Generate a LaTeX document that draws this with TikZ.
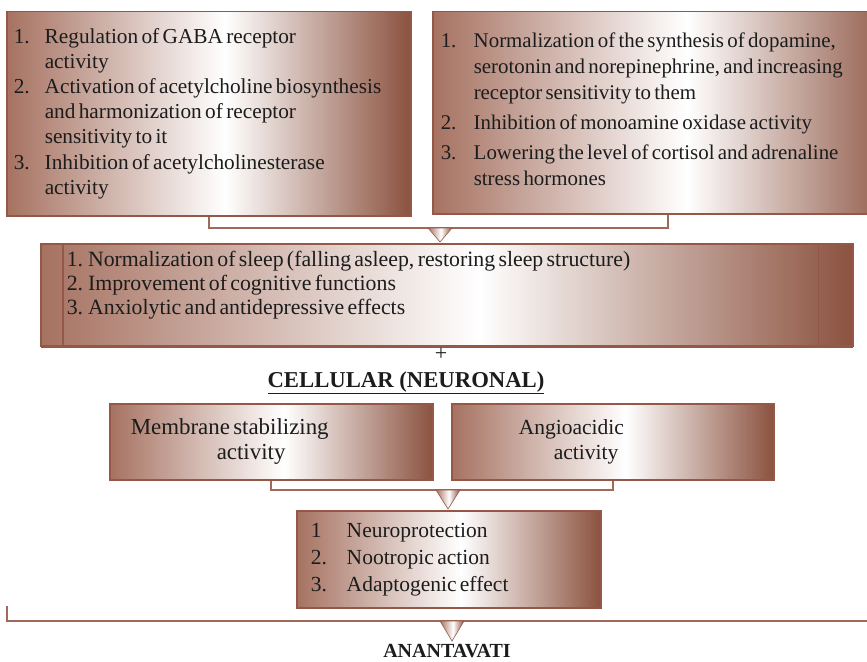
\documentclass[tikz,border=0pt]{standalone}
\usepackage{fontspec}
\setmainfont{Liberation Serif}
\usetikzlibrary{calc,shadows}

\definecolor{brlight}{RGB}{166,114,97}
\definecolor{brdark}{RGB}{139,82,63}
\definecolor{brline}{RGB}{150,88,70}
\definecolor{ink}{RGB}{28,28,28}
% tikz fits the 25bp--75bp part of a shading to the path
\pgfdeclarehorizontalshading{brownbar}{100bp}{color(0bp)=(brlight); color(25bp)=(brlight); color(52bp)=(white); color(75bp)=(brdark); color(100bp)=(brdark)}

\tikzset{
	box/.style={draw=brline, line width=1.5pt, shade, shading=brownbar, anchor=north west, inner ysep=0pt, align=left, text=ink},
	link/.style={draw=brline!90, line width=1.6pt},
	tri/.style={shade, shading=brownbar, draw=brline, line width=0.6pt},
}

\begin{document}
\begin{tikzpicture}[x=1pt, y=-1pt]
	\useasboundingbox (0,0) rectangle (867,661);

	\node[box, minimum height=204pt, text width=390pt, inner xsep=7pt] (gaba) at (6,11) {\fontsize{21.3}{25.2}\selectfont
		\begin{tabular}{@{}p{31pt}@{}l@{}}
			1. & Regulation of GABA receptor\\
			   & activity\\
			2. & Activation of acetylcholine biosynthesis\\
			   & and harmonization of receptor\\
			   & sensitivity to it\\
			3. & Inhibition of acetylcholinesterase\\
			   & activity
		\end{tabular}};
	\node[box, minimum height=202pt, text width=454pt, inner xsep=8pt] (mono) at (432,11) {\fontsize{20.9}{26}\selectfont
		\begin{tabular}{@{}p{33pt}@{}l@{}}
			1. & Normalization of the synthesis of dopamine,\\
			   & serotonin and norepinephrine, and increasing\\
			   & receptor sensitivity to them\\[4pt]
			2. & Inhibition of monoamine oxidase activity\\[4pt]
			3. & Lowering the level of cortisol and adrenaline\\
			   & stress hormones\\[3pt]
		\end{tabular}};

	% joining line and arrow to the sleep box
	\coordinate (t1) at (440,228);
	\draw[link] (gaba.south) |- (t1) -| (mono.south);

	\node[box, minimum height=102pt, text width=760pt, inner xsep=26pt,
		drop shadow={shadow xshift=0pt, shadow yshift=-2.5pt, fill=brline, opacity=1}] (sleep) at (40,243) {\fontsize{21.8}{24}\selectfont
		\begin{tabular}{@{}l@{}}
			1. Normalization of sleep (falling asleep, restoring sleep structure)\\
			2. Improvement of cognitive functions\\
			3. Anxiolytic and antidepressive effects\\[18pt]
		\end{tabular}};
	\draw[brline, line width=1.5pt] ([xshift=23pt]sleep.north west) -- ([xshift=23pt]sleep.south west);
	\draw[brline, line width=1.5pt] ([xshift=-35pt]sleep.north east) -- ([xshift=-35pt]sleep.south east);

	\node[text=ink, font=\fontsize{22}{24}\selectfont] (plus) at (441,354) {+};
	\node[text=ink, font=\bfseries\fontsize{22.7}{24}\selectfont] (cell) at (406,383) {\underline{CELLULAR (NEURONAL)}};

	\node[box, minimum height=76pt, text width=281pt, inner xsep=21pt] (memb) at (109,403) {\fontsize{22.9}{25}\selectfont
		\begin{tabular}{@{}l@{}}
			Membrane stabilizing\\
			\hspace{86pt}activity
		\end{tabular}};
	\node[box, minimum height=76pt, text width=188pt, inner xsep=67pt] (angio) at (451,403) {\fontsize{21.5}{25}\selectfont
		\begin{tabular}{@{}l@{}}
			Angioacidic\\
			\hspace{35pt}activity
		\end{tabular}};

	% joining line and arrow to the neuro box
	\coordinate (t2) at (448,490);
	\draw[link] (memb.south) |- (t2) -| (angio.south);

	\node[box, minimum height=97pt, text width=276pt, inner xsep=14pt] (neuro) at (296,510) {\fontsize{21.5}{27}\selectfont
		\begin{tabular}{@{}p{36pt}@{}l@{}}
			1  & Neuroprotection\\
			2. & Nootropic action\\
			3. & Adaptogenic effect
		\end{tabular}};

	% bottom bracket
	\coordinate (bl) at (7,606);
	\coordinate (t3) at (452,621);
	\coordinate (br) at (900,621);
	\draw[link] (bl) |- (t3) -- (br);

	\foreach \t/\h in {t1/14, t2/19, t3/20}
		\shade[tri] ($(\t)+(-12,0)$) -- ($(\t)+(12,0)$) -- ($(\t)+(0,\h)$) -- cycle;

	\node[text=ink, font=\bfseries\fontsize{20}{22}\selectfont, anchor=base] (anant) at (447,657) {ANANTAVATI};
\end{tikzpicture}
\end{document}
